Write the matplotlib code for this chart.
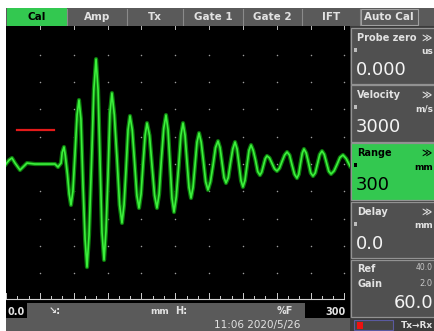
import matplotlib
matplotlib.use('Agg')
import matplotlib.pyplot as plt
import numpy as np
from matplotlib.patches import Rectangle

# screen size in pixels
W, H = 434, 331

# top menu
tab_names = ['Cal', 'Amp', 'Tx', 'Gate 1', 'Gate 2', 'IFT', 'Auto Cal']
tab_edges = [7, 67, 127, 183, 243, 302, 360, 418]

# side panel
panel_labels = ['Probe zero', 'Velocity', 'Range', 'Delay']
panel_units = ['us', 'm/s', 'mm', 'mm']
panel_values = ['0.000', '3000', '300', '0.0']
ref_db = '40.0'
gain_step = '2.0'
gain_db = '60.0'

# status bar
range_start = '0.0'
range_end = '300'
timestamp = '11:06 2020/5/26'

# A-scan (RF), x in mm, y in % of half screen height
wave_mm = [0, 2.7, 5.3, 8.0, 12.4, 16.0, 18.6, 25.7, 34.6, 43.4, 46.1, 48.8,
           49.8, 51.4, 52.6, 54.5, 56.0, 57.6, 59.3,
           61.2, 63.0, 64.7, 66.4, 68.2, 70.1, 71.8, 73.6,
           75.8, 77.9, 79.8, 81.6, 83.3, 85.1, 86.9, 88.6,
           90.4, 92.1, 93.9, 96.0, 98.4, 100.7, 102.8, 104.6,
           106.4, 108.2, 109.9, 111.9, 114.0, 116.0, 117.9, 119.7,
           121.4, 123.3, 125.0, 127.2, 129.4, 131.7, 133.8, 135.7,
           137.6, 139.8, 141.8, 143.6, 145.4, 147.1, 148.9, 150.9,
           153.0, 155.0, 156.9, 158.7, 160.4, 162.2, 164.0, 165.8,
           167.5, 169.3, 171.1, 173.0, 175.0, 177.0, 179.0, 181.2,
           183.5, 185.7, 187.9, 189.7, 191.5, 193.3, 195.0, 197.0,
           199.0, 201.0, 203.0, 204.8, 206.5, 208.3, 210.0, 211.8,
           213.6, 215.4, 217.2, 219.1, 221.1, 223.1, 225.1, 226.6,
           228.2, 229.8, 231.3, 233.5, 235.8, 238.0, 240.2, 242.4,
           244.6, 246.9, 249.1, 251.3, 253.5, 255.7, 257.9, 259.5,
           261.0, 262.6, 264.1, 266.1, 268.1, 270.1, 272.1, 274.1,
           276.1, 278.1, 280.1, 282.1, 284.1, 286.1, 288.1, 290.8,
           293.4, 296.0, 298.7, 301.5, 304.9]
wave_pct = [0, 2.9, 4.4, 0.7, -4.4, -1.5, 0.7, 0, 0, 0, -2.2, 0.7,
            8.5, 12.5, 6.0, -8.0, -22, -30.0, -20,
            8, 36, 46.9, 33, -14, -55, -75.5, -52,
            1, 55, 76.9, 54, 3, -50, -70.3, -49,
            -9, 37, 52.0, 36, 4, -30, -43.2, -30,
            -4, 25, 35.2, 25, 1, -23, -32.2, -22,
            -1, 21, 30.0, 21, -1, -23, -32.2, -22,
            2, 26, 35.9, 25, 0, -25, -35.2, -24,
            -2, 21, 30.0, 21, 2, -17, -24.9, -17,
            -1, 16, 22.7, 16, 2, -13, -19.0, -13,
            -1, 12, 16.8, 12, 1, -10, -13.9, -10,
            1, 11, 16.1, 11, 0, -12, -16.8, -12,
            -1, 10, 13.9, 10, 3, -5.5, -8.1, -6,
            -1, 4, 5.9, 4.5, 0.4, -3.5, -5.1, -3,
            1.8, 6.5, 8.8, 6.5, -0.7, -7.5, -10.3, -7.5,
            0.3, 8, 11.0, 8, 1, -6.5, -8.8, -6.5,
            0.4, 7, 9.5, 7, 1, -5.3, -7.3, -5,
            -0.3, 4.8, 6.6, 4, -1.5]

# gate
gate_start, gate_end, gate_level = 9.7, 42.5, 25

GRAY = '#5a5a5a'
GREEN = '#33c850'
LIGHT = '#e2e2e2'


def rect(ax, x0, y0, x1, y1, **kw):
    ax.add_patch(Rectangle((x0, y0), x1 - x0, y1 - y0, **kw))


def main():
    fig = plt.figure(figsize=(W / 100, H / 100), dpi=100)
    fig.patch.set_facecolor('white')

    bg = fig.add_axes([0, 0, 1, 1])
    bg.set_xlim(0, W)
    bg.set_ylim(H, 0)
    bg.axis('off')

    # menu bar
    rect(bg, 6, 7.5, W, 26, fc=GRAY, ec='none')
    rect(bg, tab_edges[0], 7.5, tab_edges[1], 26, fc=GREEN, ec='none')
    for x in tab_edges[1:-1]:
        bg.plot([x, x], [9, 25], color='#8a8a8a', lw=0.8)
    rect(bg, tab_edges[-2] + 1, 9, tab_edges[-1], 25, fc='none', ec='#a0a0a0', lw=0.8)
    for i, name in enumerate(tab_names):
        xc = (tab_edges[i] + tab_edges[i + 1]) / 2
        bg.text(xc, 17, name, ha='center', va='center', fontsize=7.5,
                fontweight='bold', color='black' if i == 0 else LIGHT)

    # side panel
    rect(bg, 350, 26, W, H, fc='#3c3c3c', ec='none')
    tops = [28, 85, 143, 202, 260]
    bots = [84, 142, 200, 258, 317]
    for i in range(5):
        fc = GREEN if i == 2 else '#505050'
        rect(bg, 351, tops[i], W + 2, bots[i], fc=fc, ec='#929292', lw=0.9)
    for i in range(4):
        tc = 'black' if i == 2 else LIGHT
        t = tops[i]
        bg.text(357, t + 10, panel_labels[i], fontsize=7, fontweight='bold',
                color=tc, va='center')
        bg.text(432, t + 10, '\u226b', fontsize=7, fontweight='bold',
                color=tc, va='center', ha='right')
        bg.text(433, t + 24, panel_units[i], fontsize=6.5, fontweight='bold',
                color=tc, va='center', ha='right')
        rect(bg, 354, t + 20, 357, t + 24, fc='black' if i == 2 else '#bdbdbd', ec='none')
        bg.text(356, t + 42, panel_values[i], fontsize=13,
                color='black' if i == 2 else '#f4f4f4', va='center')
    bg.text(357, 269, 'Ref', fontsize=7, fontweight='bold', color=LIGHT, va='center')
    bg.text(357, 284, 'Gain', fontsize=7, fontweight='bold', color=LIGHT, va='center')
    bg.text(433, 268, ref_db, fontsize=5.5, color='#c8c8c8', va='center', ha='right')
    bg.text(433, 283, gain_step, fontsize=6, color='#c8c8c8', va='center', ha='right')
    bg.text(433, 303, gain_db, fontsize=13, color='#f4f4f4', va='center', ha='right')
    rect(bg, 354, 320, 393, 330, fc='#454545', ec='#5a5aa0', lw=0.8)
    rect(bg, 357, 321.5, 363, 328.5, fc='#ee1111', ec='none')
    bg.text(433, 325, 'Tx\u2192Rx', fontsize=6.5, fontweight='bold', color=LIGHT,
            va='center', ha='right')

    # status bar
    rect(bg, 6, 303, 350, H, fc=GRAY, ec='none')
    rect(bg, 6, 303, 27, 318, fc='black', ec='none')
    rect(bg, 305, 303, 350, 318, fc='black', ec='none')
    bg.text(7, 312, range_start, fontsize=7, fontweight='bold', color=LIGHT, va='center')
    bg.text(346, 312, range_end, fontsize=7, fontweight='bold', color=LIGHT,
            va='center', ha='right')
    bg.text(49, 311, '\u2198:', fontsize=7, fontweight='bold', color=LIGHT, va='center')
    bg.text(150, 312, 'mm', fontsize=6.5, fontweight='bold', color=LIGHT, va='center')
    bg.text(175, 311, 'H:', fontsize=7, fontweight='bold', color=LIGHT, va='center')
    bg.text(277, 311, '%F', fontsize=7, fontweight='bold', color=LIGHT, va='center')
    bg.text(257, 325, timestamp, fontsize=7.5, color=LIGHT, va='center', ha='center')

    # A-scan area: px 6..350 horizontally, 26..303 vertically
    ax = fig.add_axes([6 / W, (H - 303) / H, 344 / W, 277 / H])
    ax.set_facecolor('black')
    ax.set_xlim(0, 304.9)
    ax.set_ylim(-101.8, 101.1)
    ax.set_xticks([])
    ax.set_yticks([])
    for s in ax.spines.values():
        s.set_visible(False)

    gx, gy = np.meshgrid(np.arange(30, 301, 30), np.arange(-80, 81, 20))
    ax.scatter(gx.ravel(), gy.ravel(), s=1.2, color='#9c9c9c', lw=0)

    # ruler along the bottom
    ax.plot([0, 300], [-98.6, -98.6], color='#d0d0d0', lw=0.8)
    for x in np.arange(0, 301, 10):
        top = -94.5 if x % 30 == 0 else -96.4
        ax.plot([x, x], [-98.6, top], color='#d0d0d0', lw=0.7)
    for x in np.arange(30, 301, 30):
        ax.plot([x, x], [101.1, 99.0], color='#bbbbbb', lw=0.7)

    ax.plot([gate_start, gate_end], [gate_level, gate_level], color='#e31a1a', lw=1.6)

    ax.plot(wave_mm, wave_pct, color='#0c7a0c', lw=3.0, solid_joinstyle='round')
    ax.plot(wave_mm, wave_pct, color='#3cf03c', lw=1.2, solid_joinstyle='round')

    fig.savefig('out.png', dpi=100, facecolor='white')


if __name__ == '__main__':
    main()
